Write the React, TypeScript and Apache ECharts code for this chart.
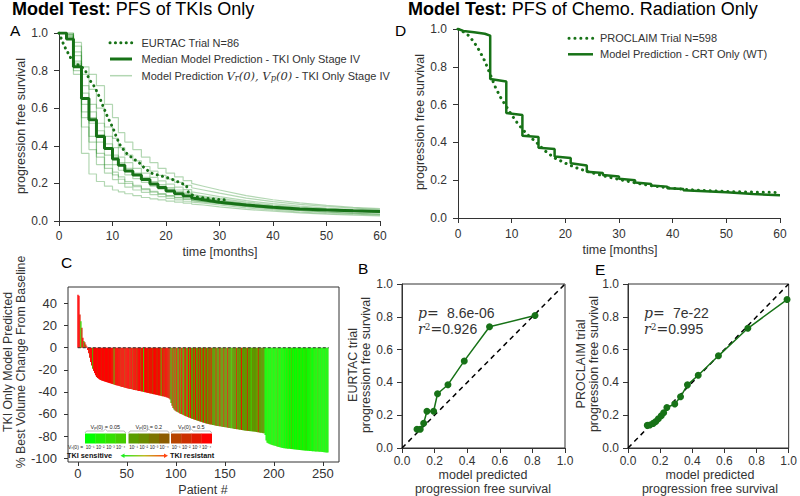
import React, { useEffect, useRef } from "react";
import * as echarts from "echarts";

const FONT = "'Liberation Sans', Arial, Helvetica, sans-serif";
const SERIF = "'DejaVu Serif', 'Liberation Serif', serif";
const GREEN = "#177217";
const LIGHT = "rgba(20,130,20,0.32)";
const INK = "#333";

// ---------- Panel A : PFS of TKIs only ----------
const A_STEP_T = [1.4, 2.7, 4.2, 5.6, 7.0, 8.5, 10.0, 11.1, 12.3, 13.8, 15.4, 17.0, 18.5, 20.0, 21.6, 23.2, 24.8];
const A_TAIL_T = [27, 30, 35, 40, 45, 50, 55, 60];
const A_MEDIAN = [1.0, 0.968, 0.82, 0.652, 0.538, 0.45, 0.385, 0.33, 0.296, 0.266, 0.245, 0.221, 0.197, 0.178, 0.16, 0.145, 0.133, 0.122,
  0.113, 0.1, 0.085, 0.073, 0.064, 0.058, 0.054, 0.051];
const A_MODEL_1 = [1, 0.97, 0.78, 0.36, 0.25, 0.21, 0.185, 0.165, 0.155, 0.145, 0.135, 0.125, 0.118, 0.112, 0.106, 0.1, 0.095, 0.09,
  0.085, 0.075, 0.062, 0.052, 0.043, 0.036, 0.031, 0.027];
const A_MODEL_2 = [1, 0.97, 0.8, 0.5, 0.38, 0.3, 0.255, 0.22, 0.2, 0.18, 0.165, 0.152, 0.14, 0.13, 0.12, 0.112, 0.105, 0.1,
  0.095, 0.085, 0.07, 0.058, 0.048, 0.041, 0.036, 0.032];
const A_MODEL_3 = [1, 0.98, 0.82, 0.58, 0.45, 0.36, 0.3, 0.26, 0.235, 0.21, 0.19, 0.172, 0.158, 0.146, 0.135, 0.126, 0.118, 0.11,
  0.104, 0.094, 0.078, 0.066, 0.056, 0.048, 0.042, 0.037];
const A_MODEL_4 = [1, 0.99, 0.85, 0.62, 0.52, 0.42, 0.35, 0.3, 0.27, 0.245, 0.225, 0.205, 0.185, 0.17, 0.158, 0.147, 0.137, 0.128,
  0.12, 0.108, 0.09, 0.076, 0.065, 0.056, 0.049, 0.044];
const A_MODEL_5 = [1, 0.99, 0.88, 0.68, 0.58, 0.48, 0.41, 0.35, 0.31, 0.28, 0.255, 0.232, 0.21, 0.193, 0.178, 0.165, 0.153, 0.142,
  0.133, 0.12, 0.1, 0.085, 0.073, 0.064, 0.057, 0.051];
const A_MODEL_6 = [1, 1.0, 0.9, 0.72, 0.62, 0.52, 0.45, 0.39, 0.34, 0.31, 0.28, 0.255, 0.232, 0.213, 0.196, 0.18, 0.167, 0.155,
  0.145, 0.13, 0.108, 0.092, 0.079, 0.069, 0.061, 0.055];
const A_MODEL_7 = [1, 1.0, 0.93, 0.78, 0.7, 0.6, 0.5, 0.44, 0.39, 0.35, 0.32, 0.29, 0.265, 0.243, 0.223, 0.205, 0.19, 0.177,
  0.165, 0.148, 0.122, 0.103, 0.088, 0.077, 0.068, 0.061];
const A_MODEL_8 = [1, 1.0, 0.95, 0.82, 0.78, 0.72, 0.62, 0.55, 0.47, 0.42, 0.38, 0.34, 0.31, 0.28, 0.255, 0.235, 0.215, 0.2,
  0.185, 0.165, 0.135, 0.113, 0.096, 0.083, 0.073, 0.066];
const A_MODEL_9 = [1, 0.99, 0.83, 0.65, 0.55, 0.46, 0.39, 0.34, 0.3, 0.27, 0.245, 0.222, 0.2, 0.184, 0.17, 0.157, 0.146, 0.136,
  0.127, 0.113, 0.094, 0.08, 0.069, 0.06, 0.053, 0.048];
const A_MODEL_10 = [1, 0.98, 0.84, 0.55, 0.42, 0.34, 0.28, 0.245, 0.222, 0.2, 0.183, 0.167, 0.153, 0.142, 0.132, 0.123, 0.115, 0.108,
  0.102, 0.092, 0.077, 0.065, 0.055, 0.047, 0.041, 0.036];
const A_MODELS = [A_MODEL_1, A_MODEL_2, A_MODEL_3, A_MODEL_4, A_MODEL_5, A_MODEL_6, A_MODEL_7, A_MODEL_8, A_MODEL_9, A_MODEL_10];

const EURTAC_T = [0, 0.5, 1.0, 1.7, 2.2, 2.9, 4.2, 5.0, 5.7, 6.7, 7.5, 8.2, 8.9, 9.5, 10.1, 10.7, 11.4, 12.1, 12.9, 13.8, 15.1, 16.0,
  17.3, 18.8, 20.7, 22.6, 23.8, 24.2, 25.4, 27.6, 29.4, 31.3];
const EURTAC_V = [1.0, 0.965, 0.93, 0.893, 0.867, 0.84, 0.822, 0.796, 0.751, 0.712, 0.663, 0.613, 0.565, 0.529, 0.494, 0.449, 0.405,
  0.378, 0.352, 0.334, 0.307, 0.281, 0.254, 0.242, 0.227, 0.204, 0.19, 0.151, 0.13, 0.121, 0.115, 0.112];

// ---------- Panel D : PFS of chemo-radiation only ----------
const D_MODEL_T = [0, 1, 3, 5, 6, 6, 9, 9, 12, 12, 15, 15, 18, 18, 21, 21, 24, 24, 27, 27, 30, 30, 33, 33, 36, 36, 39, 39, 42, 42, 45, 50, 55, 60];
const D_MODEL_V = [1.0, 0.99, 0.983, 0.975, 0.965, 0.735, 0.722, 0.555, 0.545, 0.435, 0.428, 0.372, 0.365, 0.325, 0.318, 0.29, 0.278,
  0.245, 0.238, 0.228, 0.22, 0.208, 0.2, 0.188, 0.18, 0.172, 0.166, 0.158, 0.153, 0.147, 0.143, 0.136, 0.127, 0.12];
const PROCLAIM_T = [0, 1, 2, 3, 4, 5, 6, 7, 8, 9, 10, 11, 12, 13, 14, 15, 16, 17, 18, 20, 22, 24, 26, 28, 30, 33, 36, 40, 45, 50, 55, 60];
const PROCLAIM_V = [1.0, 0.985, 0.965, 0.93, 0.885, 0.83, 0.76, 0.69, 0.635, 0.59, 0.545, 0.505, 0.47, 0.44, 0.415, 0.39, 0.36, 0.338,
  0.318, 0.29, 0.266, 0.247, 0.231, 0.217, 0.204, 0.186, 0.171, 0.157, 0.146, 0.14, 0.137, 0.135];

// ---------- Panel C : waterfall ----------
const WATER_VALUES = [
  48, 47, 30, 24, 18, 9, 6, 5, 3, 1,
  -2, -5, -9, -13, -16, -19, -21, -23, -25, -26.5,
  -27.4, -28.1, -28.8, -29.2, -29.7, -30, -30.2, -30.6, -30.9, -31.1,
  -31.4, -31.8, -32, -32.2, -32.6, -32.9, -33.1, -33.5, -33.7, -33.9,
  -34.2, -34.5, -34.6, -35, -35.3, -35.5, -35.6, -36, -36.3, -36.5,
  -36.6, -36.9, -37.1, -37.3, -37.4, -37.7, -37.9, -38.2, -38.3, -38.5,
  -38.6, -38.9, -39.1, -39.2, -39.5, -39.7, -39.8, -40.1, -40.3, -40.4,
  -40.7, -40.9, -41, -41.3, -41.5, -41.6, -41.9, -42.1, -42.2, -42.5,
  -42.7, -42.8, -43.1, -43.3, -43.4, -43.7, -43.9, -44, -44.3, -44.5,
  -44.8, -45.1, -45.5, -46, -47, -50, -52.5, -54.5, -56, -56.8,
  -57.5, -58.1, -58.5, -59, -59.6, -60, -60.3, -60.8, -61.2, -61.5,
  -62, -62.4, -62.7, -63.2, -63.5, -63.9, -64.3, -64.5, -64.9, -65.2,
  -65.4, -65.8, -66.1, -66.3, -66.7, -67, -67.2, -67.6, -67.9, -68.1,
  -68.4, -68.7, -68.9, -69, -69.3, -69.5, -69.6, -69.9, -70.1, -70.2,
  -70.5, -70.6, -70.8, -70.9, -71.1, -71.2, -71.4, -71.5, -71.7, -71.8,
  -72, -72.1, -72.3, -72.4, -72.6, -72.7, -72.9, -73, -73.2, -73.3,
  -73.5, -73.6, -73.8, -73.9, -74.1, -74.2, -74.4, -74.5, -74.7, -74.8,
  -75, -75.1, -75.2, -75.3, -75.4, -75.5, -75.6, -75.7, -75.8, -75.9,
  -76, -76.2, -76.3, -76.5, -76.6, -76.8, -76.9, -77.1, -77.2, -77.4,
  -77.5, -79, -84, -86, -86.6, -87, -87.4, -87.7, -88, -88.3,
  -88.5, -88.8, -89.1, -89.4, -89.7, -90, -90.2, -90.4, -90.6, -90.8,
  -91, -91.1, -91.2, -91.3, -91.4, -91.5, -91.6, -91.7, -91.8, -91.9,
  -92, -92.1, -92.2, -92.3, -92.4, -92.5, -92.6, -92.7, -92.8, -92.9,
  -93, -93.1, -93.2, -93.2, -93.3, -93.4, -93.5, -93.5, -93.6, -93.7,
  -93.8, -93.8, -93.9, -94, -94, -94.1, -94.2, -94.2, -94.3, -94.4,
  -94.5, -94.6, -94.7, -94.8, -94.9, -95,
];
// colour class per patient (hex digit: 0 = most TKI sensitive ... b = most TKI resistant)
const WATER_CODES = [
  "bba29b4a8b", "bbabb4abbb", "abbbabbabb", "babbbab3ba", "bbab9bab8b",
  "abb9ab8bab", "9abb8ab3ab", "ba9bab8abb", "a9bab3ba8b", "ab9a845949",
  "4b45a4b548", "a45b4a5494", "b4594a45b4", "5a4594b454", "49545a4549",
  "454a454354", "5494545a45", "4549454354", "5453a45445", "4101201021",
  "0120310201", "1020120130", "2010210120", "1203010210", "0210130102",
  "010201",
].join("");
const PALETTE = ["#00ff00", "#1ef000", "#33e000", "#44cc00", "#5a9e00", "#6b8c00",
  "#7c7400", "#8c5c00", "#b84400", "#cc3000", "#e21a00", "#ff0000"];
const VP_LABELS = ["0.05", "0.2", "0.5"];
const VR_LABELS = ["10⁻¹", "10⁻²", "10⁻³", "10⁻⁴"];
const C_X_TICKS = [0, 50, 100, 150, 200, 250];
const C_Y_TICKS = [-100, -80, -60, -40, -20, 0, 20, 40];

// ---------- Panels B and E : model vs trial ----------
const B_MODEL = [0.092, 0.112, 0.133, 0.153, 0.194, 0.218, 0.282, 0.382, 0.537, 0.816];
const B_TRIAL = [0.114, 0.114, 0.151, 0.224, 0.224, 0.331, 0.386, 0.531, 0.739, 0.808];
const E_MODEL = [0.12, 0.136, 0.157, 0.173, 0.189, 0.207, 0.222, 0.242, 0.291, 0.327, 0.37, 0.437, 0.563, 0.746, 0.99];
const E_TRIAL = [0.138, 0.14, 0.15, 0.162, 0.178, 0.197, 0.215, 0.247, 0.268, 0.312, 0.385, 0.444, 0.562, 0.73, 0.905];
const B_STATS = { p: "8.6e-06", r2: "0.926" };
const E_STATS = { p: "7e-22", r2: "0.995" };

function stepPoints(vals: number[]): number[][] {
  const pts: number[][] = [[0, vals[0]]];
  A_STEP_T.forEach((t, i) => {
    pts.push([t, vals[i]]);
    pts.push([t, vals[i + 1]]);
  });
  A_TAIL_T.forEach((t, j) => pts.push([t, vals[A_STEP_T.length + 1 + j]]));
  return pts;
}
const zip = (xs: number[], ys: number[]) => xs.map((x, i) => [x, ys[i]]);

function axis(grid: number, o: any = {}) {
  return {
    gridIndex: grid,
    type: "value",
    splitLine: { show: false },
    axisLine: { show: true, onZero: false, lineStyle: { color: INK, width: 1 } },
    axisTick: { show: true, inside: false, length: 5, lineStyle: { color: INK } },
    axisLabel: { color: INK, fontSize: 12, fontFamily: FONT, margin: 9 },
    ...o,
    ...(o.axisLabel ? { axisLabel: { color: INK, fontSize: 12, fontFamily: FONT, margin: 9, ...o.axisLabel } } : {}),
    ...(o.axisTick ? { axisTick: { show: true, inside: false, length: 5, lineStyle: { color: INK }, ...o.axisTick } } : {}),
    ...(o.axisLine ? { axisLine: { show: true, onZero: false, lineStyle: { color: INK, width: 1 }, ...o.axisLine } } : {}),
  };
}
const f1 = (v: number) => v.toFixed(1);

function txt(x: number, y: number, text: string, extra: any = {}, rot = 0) {
  return {
    type: "text", x, y, rotation: rot, z: 100,
    style: { text, fontFamily: FONT, fontSize: 12.5, fill: INK, align: "center", verticalAlign: "middle", ...extra },
  };
}

function buildOption() {
  const mathRich = (size: number) => ({
    m: { fontFamily: SERIF, fontStyle: "italic", fontSize: size, fill: INK },
    s: { fontFamily: SERIF, fontStyle: "italic", fontSize: size * 0.72, fill: INK, verticalAlign: "bottom" },
    n: { fontFamily: FONT, fontSize: size, fill: INK },
  });
  const statsText = (x: number, st: { p: string; r2: string }) => [
    {
      type: "text", x, y: 312.7, z: 100,
      style: {
        text: "{i|p}{e|= }{n| " + st.p + "}", align: "left", verticalAlign: "middle",
        rich: {
          i: { fontFamily: SERIF, fontStyle: "italic", fontSize: 14, fill: INK },
          e: { fontFamily: SERIF, fontSize: 14, fill: INK },
          n: { fontFamily: FONT, fontSize: 14, fill: INK },
        },
      },
    },
    {
      type: "text", x, y: 329.3, z: 100,
      style: {
        text: "{i|r}{u|2}{e|=}{n|" + st.r2 + "}", align: "left", verticalAlign: "middle",
        rich: {
          i: { fontFamily: SERIF, fontStyle: "italic", fontSize: 14, fill: INK },
          u: { fontFamily: SERIF, fontSize: 9, fill: INK, verticalAlign: "top" },
          e: { fontFamily: SERIF, fontSize: 14, fill: INK },
          n: { fontFamily: FONT, fontSize: 14, fill: INK },
        },
      },
    },
  ];

  // legend of panel C (colour key)
  const keyEls: any[] = [];
  const boxX = [85, 128.5, 171];
  const boxW = 40.7;
  VP_LABELS.forEach((lab, b) => {
    const x0 = boxX[b];
    for (let k = 0; k < 4; k++) {
      keyEls.push({
        type: "rect", z: 50,
        shape: { x: x0 + (k * boxW) / 4, y: 433.5, width: boxW / 4 + 0.3, height: 10 },
        style: { fill: PALETTE[b * 4 + k] },
      });
      keyEls.push({
        type: "text", x: x0 + (k + 0.5) * (boxW / 4), y: 447.3, z: 50,
        style: { text: VR_LABELS[k], fontFamily: FONT, fontSize: 4.6, fill: "#222", align: "center", verticalAlign: "middle" },
      });
    }
    const xc = x0 + boxW / 2;
    keyEls.push({
      type: "polyline", z: 50,
      shape: { points: [[x0, 433], [x0 + 1.5, 431], [xc - 2, 431], [xc, 429.2], [xc + 2, 431], [x0 + boxW - 1.5, 431], [x0 + boxW, 433]] },
      style: { stroke: "#aaa", lineWidth: 0.8, fill: null },
    });
    keyEls.push({
      type: "text", x: xc, y: 426.8, z: 50,
      style: {
        text: "V{s|p}(0) = " + lab, fontFamily: FONT, fontSize: 5.5, fill: "#222", align: "center", verticalAlign: "middle",
        rich: { s: { fontFamily: FONT, fontSize: 4, fill: "#222", verticalAlign: "bottom" } },
      },
    });
  });
  keyEls.push({
    type: "text", x: 84.5, y: 447.3, z: 50,
    style: {
      text: "V{s|r}(0) = ", fontFamily: FONT, fontSize: 5, fill: "#222", align: "right", verticalAlign: "middle",
      rich: { s: { fontFamily: FONT, fontSize: 3.8, fill: "#222", verticalAlign: "bottom" } },
    },
  });
  keyEls.push(txt(67, 455.8, "TKI sensitive", { fontSize: 7.3, fontWeight: "bold", fill: "#111", align: "left" }));
  keyEls.push(txt(170, 455.8, "TKI resistant", { fontSize: 7.3, fontWeight: "bold", fill: "#111", align: "left" }));
  keyEls.push({
    type: "rect", z: 50, shape: { x: 123, y: 455.1, width: 42.5, height: 1.3 },
    style: {
      fill: new echarts.graphic.LinearGradient(0, 0, 1, 0, [
        { offset: 0, color: "#22ee22" }, { offset: 0.5, color: "#bbbb22" }, { offset: 1, color: "#ff4411" },
      ]),
    },
  });
  keyEls.push({ type: "polygon", z: 50, shape: { points: [[120.5, 455.75], [124.5, 453.5], [124.5, 458]] }, style: { fill: "#22ee22" } });
  keyEls.push({ type: "polygon", z: 50, shape: { points: [[168, 455.75], [164, 453.5], [164, 458]] }, style: { fill: "#ff4411" } });

  const legendLine = (x1: number, x2: number, y: number, style: any) => ({
    type: "line", z: 100, shape: { x1, y1: y, x2, y2: y }, style: { lineCap: "round", ...style },
  });

  const graphics: any[] = [
    // titles
    txt(12, 8.5, "{b|Model Test:} PFS of TKIs Only", {
      fontSize: 18, fill: "#000", align: "left", rich: { b: { fontWeight: "bold", fontSize: 18, fontFamily: FONT, fill: "#000" } },
    }),
    txt(408, 8.5, "{b|Model Test:} PFS of Chemo. Radiation Only", {
      fontSize: 18, fill: "#000", align: "left", rich: { b: { fontWeight: "bold", fontSize: 18, fontFamily: FONT, fill: "#000" } },
    }),
    // panel letters
    txt(10, 30.5, "A", { fontSize: 15.5, fill: "#000", align: "left" }),
    txt(395, 30.5, "D", { fontSize: 15.5, fill: "#000", align: "left" }),
    txt(61, 262, "C", { fontSize: 15.5, fill: "#000", align: "left" }),
    txt(358, 268.5, "B", { fontSize: 15.5, fill: "#000", align: "left" }),
    txt(595, 269.5, "E", { fontSize: 15.5, fill: "#000", align: "left" }),
    // axis titles
    txt(21, 126, "progression free survival", {}, Math.PI / 2),
    txt(220, 252, "time [months]"),
    txt(420, 122, "progression free survival", {}, Math.PI / 2),
    txt(620, 250, "time [months]"),
    txt(7.5, 362, "TKI Only Model Predicted", { fontSize: 12.3 }, Math.PI / 2),
    txt(21, 362, "% Best Volume Change From Baseline", { fontSize: 12.3 }, Math.PI / 2),
    txt(203, 489.5, "Patient #", { fontSize: 12.5 }),
    txt(352.5, 365, "EURTAC trial", {}, Math.PI / 2),
    txt(366, 365, "progression free survival", {}, Math.PI / 2),
    txt(483, 475, "model predicted"),
    txt(483, 489, "progression free survival"),
    txt(581, 364, "PROCLAIM trial", {}, Math.PI / 2),
    txt(593.5, 364, "progression free survival", {}, Math.PI / 2),
    txt(710, 475, "model predicted"),
    txt(710, 489, "progression free survival"),
    // legend A
    legendLine(110, 132, 42.7, { stroke: GREEN, lineWidth: 3, lineDash: [0.1, 5.3] }),
    txt(141.5, 42.7, "EURTAC Trial N=86", { fontSize: 11, align: "left" }),
    legendLine(110, 132, 59, { stroke: GREEN, lineWidth: 3, lineCap: "butt" }),
    txt(141.5, 59, "Median Model Prediction - TKI Only Stage IV", { fontSize: 11, align: "left" }),
    legendLine(110, 132, 75.7, { stroke: LIGHT, lineWidth: 1.5, lineCap: "butt" }),
    txt(141.5, 75.7, "Model Prediction {m|V}{s|r}{m|(0), V}{s|p}{m|(0)} - TKI Only Stage IV", {
      fontSize: 11, align: "left", rich: mathRich(11.5),
    }),
    // legend D
    legendLine(569, 593, 38.3, { stroke: GREEN, lineWidth: 3, lineDash: [0.1, 5.8] }),
    txt(600, 38.3, "PROCLAIM Trial N=598", { fontSize: 11, align: "left" }),
    legendLine(568, 593, 54.3, { stroke: GREEN, lineWidth: 2.5, lineCap: "butt" }),
    txt(600, 54.3, "Model Prediction - CRT Only (WT)", { fontSize: 11, align: "left" }),
    ...statsText(418, B_STATS),
    ...statsText(644, E_STATS),
    ...keyEls,
  ];

  const lightSeries = A_MODELS.map((vals) => ({
    type: "line", xAxisIndex: 0, yAxisIndex: 0, data: stepPoints(vals), symbol: "none", silent: true,
    lineStyle: { color: LIGHT, width: 1.2 }, z: 2,
  }));

  const bars = WATER_VALUES.map((v, i) => [i, v, parseInt(WATER_CODES[i] || "b", 16)]);

  return {
    animation: false,
    textStyle: { fontFamily: FONT },
    grid: [
      { left: 59, top: 33, width: 321, height: 188 },
      { left: 458, top: 29, width: 322, height: 189 },
      { left: 68, top: 287, width: 271, height: 175, show: true, borderColor: INK, borderWidth: 1 },
      { left: 402, top: 284, width: 163, height: 164, show: true, borderColor: INK, borderWidth: 1 },
      { left: 628, top: 284, width: 164, height: 164, show: true, borderColor: INK, borderWidth: 1 },
    ],
    xAxis: [
      axis(0, { min: 0, max: 60, interval: 10 }),
      axis(1, { min: 0, max: 60, interval: 10, axisLabel: { margin: 10 } }),
      axis(2, {
        min: -10, max: 266.5,
        axisLine: { show: false },
        axisTick: { customValues: C_X_TICKS, length: 4 },
        axisLabel: { customValues: C_X_TICKS, fontSize: 13, margin: 5 },
      }),
      axis(3, { min: 0, max: 1, interval: 0.2, axisLabel: { formatter: f1, margin: 7 } }),
      axis(4, { min: 0, max: 1, interval: 0.2, axisLabel: { formatter: f1, margin: 7 } }),
    ],
    yAxis: [
      axis(0, { min: 0, max: 1, interval: 0.2, axisLabel: { formatter: f1, margin: 11 } }),
      axis(1, { min: 0, max: 1, interval: 0.2, axisLabel: { formatter: f1, margin: 11 } }),
      axis(2, {
        min: -103.5, max: 55,
        axisLine: { show: false },
        axisTick: { customValues: C_Y_TICKS, length: 4 },
        axisLabel: { customValues: C_Y_TICKS, fontSize: 13, margin: 11 },
      }),
      axis(3, { min: 0, max: 1, interval: 0.2, axisLabel: { formatter: f1, margin: 9 } }),
      axis(4, { min: 0, max: 1, interval: 0.2, axisLabel: { formatter: f1, margin: 9 } }),
    ],
    series: [
      ...lightSeries,
      {
        type: "line", xAxisIndex: 0, yAxisIndex: 0, data: stepPoints(A_MEDIAN), symbol: "none",
        lineStyle: { color: GREEN, width: 3 }, z: 3,
      },
      {
        type: "line", xAxisIndex: 0, yAxisIndex: 0, data: zip(EURTAC_T, EURTAC_V), symbol: "none",
        lineStyle: { color: GREEN, width: 3, type: [0.1, 5.3], cap: "round" }, z: 4,
      },
      {
        type: "line", xAxisIndex: 1, yAxisIndex: 1, data: zip(PROCLAIM_T, PROCLAIM_V), symbol: "none",
        lineStyle: { color: GREEN, width: 3, type: [0.1, 5.8], cap: "round" }, z: 4,
      },
      {
        type: "line", xAxisIndex: 1, yAxisIndex: 1, data: zip(D_MODEL_T, D_MODEL_V), symbol: "none",
        lineStyle: { color: GREEN, width: 2.5 }, z: 3,
      },
      {
        type: "custom", xAxisIndex: 2, yAxisIndex: 2, data: bars, encode: { x: 0, y: 1 }, z: 2,
        renderItem: (_p: any, api: any) => {
          const i = api.value(0);
          const v = api.value(1);
          const c = api.value(2);
          const a = api.coord([i - 0.5, 0]);
          const b = api.coord([i + 0.5, v]);
          return {
            type: "rect",
            shape: { x: a[0], y: Math.min(a[1], b[1]), width: b[0] - a[0] + 0.35, height: Math.abs(b[1] - a[1]) },
            style: { fill: PALETTE[c] },
          };
        },
      },
      {
        type: "line", xAxisIndex: 2, yAxisIndex: 2, data: [[0, 0], [WATER_VALUES.length, 0]], symbol: "none", z: 5,
        lineStyle: { color: "#333", width: 1, type: [3, 2] },
      },
      {
        type: "line", xAxisIndex: 3, yAxisIndex: 3, data: [[0, 0], [1, 1]], symbol: "none", z: 3,
        lineStyle: { color: "#000", width: 1.5, type: [5, 4] },
      },
      {
        type: "line", xAxisIndex: 3, yAxisIndex: 3, data: zip(B_MODEL, B_TRIAL), symbol: "circle", symbolSize: 7,
        itemStyle: { color: GREEN }, lineStyle: { color: GREEN, width: 1.5 }, z: 4,
      },
      {
        type: "line", xAxisIndex: 4, yAxisIndex: 4, data: [[0, 0], [1, 1]], symbol: "none", z: 3,
        lineStyle: { color: "#000", width: 1.5, type: [5, 4] },
      },
      {
        type: "line", xAxisIndex: 4, yAxisIndex: 4, data: zip(E_MODEL, E_TRIAL), symbol: "circle", symbolSize: 7,
        itemStyle: { color: GREEN }, lineStyle: { color: GREEN, width: 1.5 }, z: 4,
      },
    ],
    graphic: { elements: graphics },
  };
}

export default function App() {
  const ref = useRef<HTMLDivElement>(null);
  useEffect(() => {
    if (!ref.current) return;
    const chart = echarts.init(ref.current, undefined, { renderer: "svg", width: 800, height: 496 });
    chart.setOption(buildOption() as any);
    return () => chart.dispose();
  }, []);
  return (
    <div
      ref={ref}
      style={{ position: "absolute", left: 0, top: 0, width: 800, height: 496, background: "#fff" }}
    />
  );
}
